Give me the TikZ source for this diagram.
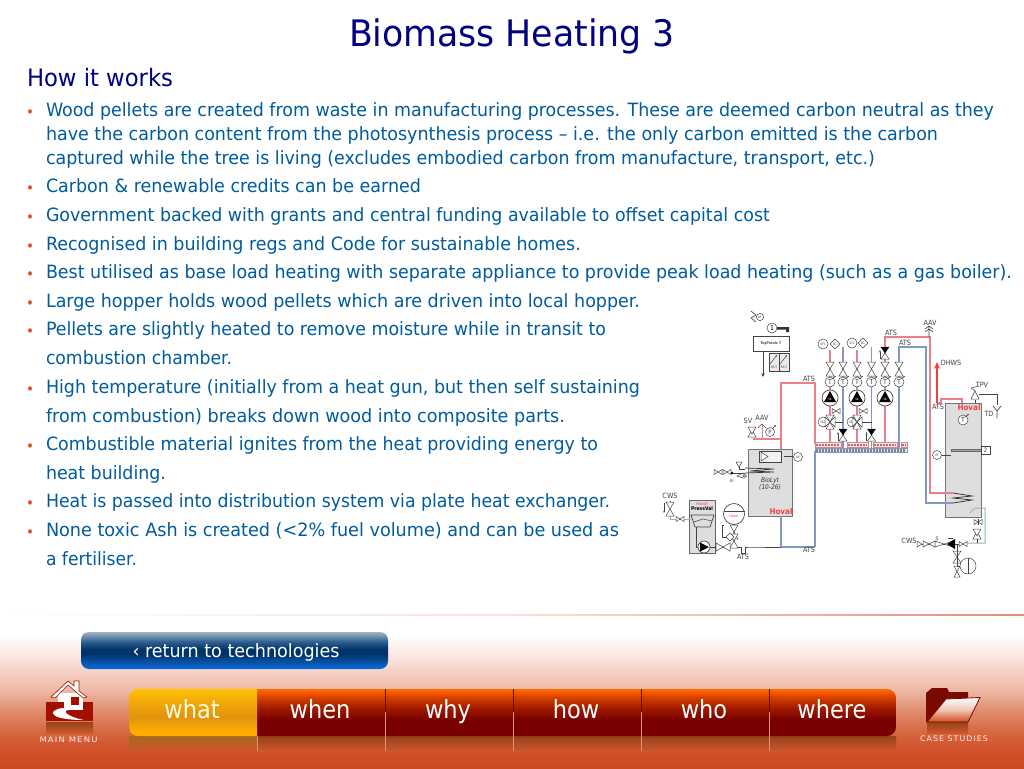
\documentclass[tikz,border=0pt]{standalone}
\usepackage{fontspec}
\usepackage{graphicx}
\setmainfont{DejaVu Sans Condensed}
\usetikzlibrary{arrows.meta}
\definecolor{navy}{HTML}{000080}
\definecolor{bodyc}{HTML}{005C9C}
\definecolor{bul}{HTML}{E2501E}
\definecolor{bga}{HTML}{FFFFFF}\definecolor{bgb}{HTML}{F8E2DA}\definecolor{bgc}{HTML}{EEB8A4}
\definecolor{bgd}{HTML}{E08F70}\definecolor{bge}{HTML}{D86A44}\definecolor{bgf}{HTML}{D0522A}\definecolor{bgg}{HTML}{CC4A1C}
\definecolor{pipered}{HTML}{E8808A}\definecolor{pipeblue}{HTML}{8497BE}\definecolor{pipegreen}{HTML}{8FB8A6}
\definecolor{dk}{HTML}{444444}\definecolor{tankg}{HTML}{DEDEDE}\definecolor{hov}{HTML}{F04040}
\definecolor{icred}{HTML}{A21000}\definecolor{icdark}{HTML}{7A0A00}
\pgfdeclareverticalshading{bgsh}{100bp}{color(0bp)=(bgg);color(25bp)=(bgg);color(31bp)=(bgf);color(37.5bp)=(bge);color(44bp)=(bgd);color(50.5bp)=(bgc);color(60.5bp)=(bgb);color(68.5bp)=(bga);color(100bp)=(bga)}
\definecolor{ra}{HTML}{FF6C00}\definecolor{rb}{HTML}{E04800}\definecolor{rc}{HTML}{A01A00}\definecolor{rd}{HTML}{780000}
\pgfdeclareverticalshading{redtab}{100bp}{color(0bp)=(rd);color(42bp)=(rd);color(55bp)=(rc);color(68bp)=(rb);color(75bp)=(ra);color(100bp)=(ra)}
\definecolor{ya}{HTML}{FFC400}\definecolor{yb}{HTML}{F2A90A}\definecolor{yc}{HTML}{E2920E}\definecolor{yd}{HTML}{FFAE00}
\pgfdeclareverticalshading{yeltab}{100bp}{color(0bp)=(yd);color(30bp)=(yd);color(45bp)=(yc);color(62bp)=(yb);color(75bp)=(ya);color(100bp)=(ya)}
\definecolor{ba}{HTML}{A4B4C2}\definecolor{bb}{HTML}{2F5F90}\definecolor{bc}{HTML}{003468}\definecolor{bd}{HTML}{0A6CE0}
\pgfdeclareverticalshading{bluebtn}{100bp}{color(0bp)=(bd);color(25bp)=(bd);color(45bp)=(bc);color(52bp)=(bc);color(62bp)=(bb);color(75bp)=(ba);color(100bp)=(ba)}
\definecolor{rfa}{HTML}{95421A}\definecolor{rfb}{HTML}{D0562C}\definecolor{yfa}{HTML}{A8681E}
\pgfdeclareverticalshading{reflr}{100bp}{color(0bp)=(rfb);color(25bp)=(rfb);color(75bp)=(rfa);color(100bp)=(rfa)}
\pgfdeclareverticalshading{refly}{100bp}{color(0bp)=(rfb);color(25bp)=(rfb);color(75bp)=(yfa);color(100bp)=(yfa)}
\definecolor{fa}{HTML}{FFFFFF}\definecolor{fb}{HTML}{F0C4B4}\definecolor{fc}{HTML}{D2491C}
\pgfdeclareverticalshading{folderf}{100bp}{color(0bp)=(fc);color(25bp)=(fc);color(50bp)=(fb);color(75bp)=(fa);color(100bp)=(fa)}
\pgfdeclarehorizontalshading{topline}{100bp}{color(0bp)=(white);color(25bp)=(white);color(50bp)=(bgb);color(75bp)=(bgd);color(100bp)=(bgd)}
\tikzset{
 txt/.style={anchor=base west,inner sep=0pt,outer sep=0pt},
 ctr/.style={anchor=center,inner sep=0pt,outer sep=0pt},
 lab/.style={ctr,font=\fontsize{7.2}{7}\selectfont,text=dk},
 tiny lab/.style={ctr,font=\fontsize{3.2}{3}\selectfont,text=dk},
 hovlab/.style={ctr,font=\fontsize{8}{8}\selectfont\bfseries,text=hov},
 redp/.style={draw=pipered,line width=1.2pt},
 bluep/.style={draw=pipeblue,line width=1.2pt},
 blk/.style={draw=dk,line width=.7pt},
 sym/.style={draw=dk,line width=.5pt,fill=white},
 tabt/.style={anchor=base,inner sep=0pt,outer sep=0pt,font=\fontsize{25}{25}\selectfont,text=white},
 icont/.style={ctr,text=bgb!70!white,font=\fontsize{7.6}{8}\selectfont\addfontfeatures{LetterSpace=12}},
}
\newsavebox\fitbox
\newcommand\fitw[2]{\sbox\fitbox{#2}\pgfmathsetmacro\fitr{#1/\wd\fitbox}\scalebox{\fitr}[1]{\usebox\fitbox}}
\newcommand\bodyln[5]{\node[txt,text=bodyc,font=\fontsize{18.3}{20}\selectfont] (#1) at (#2,#3) {\fitw{\the\numexpr#4-#2\relax pt}{#5}};}
\newcommand\bulnode[2]{\node[ctr,text=bul,font=\fontsize{15}{15}\selectfont] (#1) at (30,#2+3.5) {•};}
\newcommand\symvb[2]{\draw[sym] (#1-4,#2-7)--(#1+4,#2-7)--(#1-4,#2+7)--(#1+4,#2+7)--cycle;}
\newcommand\symhb[2]{\draw[sym] (#1-7,#2-4)--(#1-7,#2+4)--(#1+7,#2-4)--(#1+7,#2+4)--cycle;}
\newcommand\symshb[2]{\draw[sym] (#1-4,#2-2.5)--(#1-4,#2+2.5)--(#1+4,#2-2.5)--(#1+4,#2+2.5)--cycle;}
\newcommand\symblv[2]{\draw[sym] (#1-4,#2-6)--(#1+4,#2-6)--(#1-4,#2+6)--(#1+4,#2+6)--cycle;\fill[black] (#1-4,#2-6)--(#1+4,#2-6)--(#1,#2)--cycle;\draw[dk,line width=.5pt,-{Stealth[length=2.5pt]}] (#1-5,#2+6)--(#1-5,#2-3);}
\newcommand\symtc[2]{\draw[sym] (#1,#2) circle (5pt);\node[ctr,text=dk,font=\fontsize{7}{7}\selectfont] at (#1,#2) {T};\draw[dk,line width=.6pt,-{Stealth[length=2pt]}] (#1+2,#2-3)--(#1+6,#2-6);}
\newcommand\sympu[2]{\draw[draw=dk,line width=.7pt,fill=white] (#1,#2) circle (8pt);\fill[black] (#1-6,#2+4)--(#1+6,#2+4)--(#1,#2-7)--cycle;\node[ctr,text=white,font=\fontsize{3}{3}\selectfont] at (#1,#2+1.5) {SK};}
\newcommand\symcir[3]{\draw[sym] (#1,#2) circle (5pt);\node[tiny lab] at (#1,#2) {#3};}
\newcommand\symmix[2]{\draw[sym] (#1-5,#2-5)--(#1+5,#2+5)--(#1+5,#2-5)--(#1-5,#2+5)--cycle;\draw[sym] (#1-4,#2-7)--(#1+4,#2-7)--(#1-4,#2+7)--(#1+4,#2+7)--cycle;}
\newcommand\symhdr[4]{\path[draw=#4,fill=#4!20,line width=.7pt] (#1,#3-2.2)rectangle(#2,#3+2.2);
 \draw[black!50,line width=2.6pt,dash pattern=on 1.5pt off 1.5pt] (#1+1,#3)--(#2-1,#3);}
\begin{document}
\begin{tikzpicture}[x=1pt,y=-1pt]
\useasboundingbox (0,0) rectangle (1024,768);
\fill[white] (0,0) rectangle (1024,768);
\path[shading=bgsh] (0,615) rectangle (1024,768);
\path[shading=topline] (0,614.5) rectangle (1024,615.8);
% Title
\node[ctr,text=navy,font=\fontsize{36.5}{38}\selectfont] (title) at (512,36.5) {\fitw{326pt}{Biomass Heating 3}};
\node[txt,text=navy,font=\fontsize{24}{26}\selectfont] (sub) at (27,86) {\fitw{146pt}{How it works}};
% Bullets
\bulnode{b1}{110}\bulnode{b2}{186}\bulnode{b3}{215}\bulnode{b4}{244}\bulnode{b5}{272}\bulnode{b6}{301}\bulnode{b7}{329}\bulnode{b8}{387}\bulnode{b9}{444}\bulnode{b10}{501}\bulnode{b11}{530}
\bodyln{t1}{46}{116}{994}{Wood pellets are created from waste in manufacturing processes. These are deemed carbon neutral as they}
\bodyln{t2}{46}{140}{938}{have the carbon content from the photosynthesis process – i.e. the only carbon emitted is the carbon}
\bodyln{t3}{46}{164}{875}{captured while the tree is living (excludes embodied carbon from manufacture, transport, etc.)}
\bodyln{t4}{46}{192}{421}{Carbon \& renewable credits can be earned}
\bodyln{t5}{46}{221}{770}{Government backed with grants and central funding available to offset capital cost}
\bodyln{t6}{46}{250}{581}{Recognised in building regs and Code for sustainable homes.}
\bodyln{t7}{46}{278}{1012}{Best utilised as base load heating with separate appliance to provide peak load heating (such as a gas boiler).}
\bodyln{t8}{46}{307}{640}{Large hopper holds wood pellets which are driven into local hopper.}
\bodyln{t9}{46}{335}{606}{Pellets are slightly heated to remove moisture while in transit to}
\bodyln{t10}{46}{364}{232}{combustion chamber.}
\bodyln{t11}{46}{393}{640}{High temperature (initially from a heat gun, but then self sustaining}
\bodyln{t12}{46}{422}{565}{from combustion) breaks down wood into composite parts.}
\bodyln{t13}{46}{450}{598}{Combustible material ignites from the heat providing energy to}
\bodyln{t14}{46}{479}{166}{heat building.}
\bodyln{t15}{46}{507}{610}{Heat is passed into distribution system via plate heat exchanger.}
\bodyln{t16}{46}{536}{619}{None toxic Ash is created (<2\% fuel volume) and can be used as}
\bodyln{t17}{46}{565}{137}{a fertiliser.}
%%% SCHEMATIC
\draw[draw=black!55,fill=tankg,line width=.9pt] (748,449) rectangle (792,516);
\draw[draw=black!55,fill=tankg,line width=.9pt] (945,403) rectangle (981,517);
\draw[draw=black!60,fill=tankg,line width=.9pt] (689,500) rectangle (715,553);
% red pipes
\draw[redp] (781,449)--(781,383)--(815,383)--(815,444);
\draw[redp] (753,439)--(781,439);
\draw[redp] (830,350)--(830,444);
\draw[redp] (857,350)--(857,444);
\draw[redp] (885,444)--(885,337)--(930,337)--(930,493)--(953,493);
\draw[redp] (937,403)--(941,403)--(941,399)--(962,399)--(962,403);
\draw[draw=hov,line width=1.2pt,-{Stealth[length=7pt,width=6pt]}] (937,403)--(937,362);
% blue pipes
\draw[bluep] (843,347)--(843,450);
\draw[bluep] (871.5,347)--(871.5,450);
\draw[bluep] (899,450)--(899,347)--(926,347)--(926,503)--(953,503);
\draw[bluep] (781,516)--(781,547);
\draw[bluep] (815,451)--(815,547);
\draw[bluep] (781,547)--(815,547);
\draw[blk] (830,422)--(843,422) (857,422)--(871.5,422);
% headers
\symhdr{815}{841}{445}{pipered}\symhdr{847}{868}{445}{pipered}\symhdr{873}{897}{445}{pipered}\symhdr{901}{907}{445}{pipered}
\symhdr{815}{907}{450.5}{pipeblue}
% controller
\draw[dk,line width=.6pt] (751,311)--(756,315)--(751,318)--(756,322);
\draw[sym] (760,317) circle (3.6pt);\node[tiny lab] (af) at (760,317) {AF};
\draw[sym] (772,328) circle (5pt);\node[ctr,font=\fontsize{7}{7}\selectfont,text=black] (k1) at (772,328) {1};
\fill[black!80] (777,327)--(789,327)--(789,332)--(786,332)--(786,329.5)--(777,329.5)--cycle;
\node[draw=dk,line width=.7pt,minimum width=36pt,minimum height=15pt,inner sep=0pt,font=\fontsize{3.6}{4}\selectfont\bfseries,text=dk] (tt) at (771,343.5) {TopTronic T};
\draw[draw=dk,fill=black!8,line width=.6pt] (769,353) rectangle (779,371);
\draw[draw=dk,fill=black!8,line width=.6pt] (779,353) rectangle (789,371);
\draw[dk,line width=.5pt,-{Stealth[length=2pt]}] (770,364)--(777,355);
\draw[dk,line width=.5pt,-{Stealth[length=2pt]}] (780,364)--(787,355);
\node[tiny lab] (rs1) at (774,367.5) {RS-T};\node[tiny lab] (rs2) at (784,367.5) {RS-T};
\draw[dk,line width=.7pt,-{Stealth[length=4pt,width=3.5pt]}] (763,351)--(763,377);
% column symbols
\foreach \c in {830,843,857,871.5,885,899}{\symvb{\c}{369}\symtc{\c}{382}}
\sympu{830}{398}\sympu{857}{398}\sympu{885}{398}
\symshb{836}{411}\symshb{863}{411}
\symcir{823}{422}{VK1}\symcir{852}{422}{VK2}
\symmix{830}{422}\symmix{857}{422}
\symblv{843}{435}\symblv{871.5}{435}\symblv{885}{353}
\symcir{823}{344}{VF1}\symcir{852}{343}{VF2}
\draw[sym] (835,339)--(840,344)--(835,349)--(830,344)--cycle;\node[tiny lab] at (835,344) {B1};
\draw[sym] (863,338)--(868,343)--(863,348)--(858,343)--cycle;\node[tiny lab] at (863,343) {B1};
% labels
\node[lab] (a1) at (809,379) {ATS};
\node[lab] (a2) at (891,333) {ATS};
\node[lab] (a3) at (905,343) {ATS};
\node[lab] (aav1) at (930,323) {AAV};
\draw[dk,line width=.6pt] (925,329)--(929,326)--(933,329) (929,326)--(929,337) (925,332)--(929,329)--(933,332);
\node[lab] (dhws) at (951,363) {DHWS};
\node[lab] (a4) at (938,407) {ATS};
\node[hovlab] (hv1) at (969,408) {Hoval};
\symtc{963}{420}
\node[lab] (tpv) at (982,385) {TPV};
\node[lab] (td) at (989,414) {TD};
\draw[sym] (971,399)--(979,399)--(975,391)--cycle;
\draw[dk,line width=.5pt] (975,391)--(971,388)--(979,386);
\draw[blk] (975,400)--(975,403) (979,394)--(997,394)--(997,405);
\draw[blk] (993,406)--(997,411)--(1001,406) (997,411)--(997,418);
% safety group left of boiler
\node[lab] (sv) at (748,421) {SV};
\node[lab] (aav2) at (762,418) {AAV};
\draw[sym] (748,437)--(756,437)--(752,430)--cycle;\draw[sym] (748,427)--(756,427)--(752,434)--cycle;
\draw[redp,line width=.8pt] (762,439)--(762,425);
\draw[dk,line width=.5pt] (758,428)--(762,424)--(766,428);
\draw[sym] (770,432) circle (4.5pt);\node[ctr,font=\fontsize{6}{6}\selectfont,text=dk] at (770,432) {P};
\draw[dk,line width=.5pt,-{Stealth[length=2pt]}] (772,429)--(776,425);
% boiler
\draw[draw=dk,fill=white!60!tankg,line width=.8pt] (759,451) rectangle (781,462);
\draw[sym] (761,452)--(768,456.5)--(761,461)--cycle;
\draw[blk] (784,456)--(793,456);
\draw[sym] (798,457) circle (4.5pt);\node[tiny lab] (af2) at (798,457) {AF};
\draw[black!80,line width=.7pt] (745,468)--(774,469)--(750,471)--(774,472)--(745,473);
\node[ctr,font=\fontsize{6.5}{7}\selectfont\itshape,text=black!80] (bl1) at (770,481) {BioLyt};
\node[ctr,font=\fontsize{6.5}{7}\selectfont\itshape,text=black!80] (bl2) at (770,487) {(10-26)};
\node[hovlab] (hv2) at (781,512) {Hoval};
\symshb{718}{472}\symshb{727}{472}
\draw[blk,line width=.5pt] (732,473)--(745,473) (739,462)--(739,469)--(745,469);
\fill[black] (732,473) circle (1.4pt);
\draw[sym] (736,462)--(742,462)--(739,467)--cycle;
\node[tiny lab,font=\fontsize{4}{4}\selectfont] (ds) at (732,481) {BI};
\draw[sym] (737,476)--(743,473)--(743,478)--cycle;\draw[sym] (745,476) circle (1.5pt);
% return line
\draw[blk] (781,547)--(749,547)--(745,547)--(745,553)--(741,553)--(741,547)--(727,547);
\draw[blk] (734,547)--(734,526);
\draw[blk] (724,525)--(722,525)--(722,537)--(727,537);
\node[lab] (a5) at (809,550) {ATS};
\node[lab] (a6) at (743,557) {ATS};
% expansion vessel
\draw[draw=dk,fill=white,line width=.7pt] (734,514) circle (10.5pt);
\draw[dk,line width=1pt] (723.5,511)--(744.5,511);
\node[ctr,text=hov,font=\fontsize{3.6}{4}\selectfont] (hv3) at (734,516) {Hoval};
\symvb{734}{532}\symvb{734}{541}
\draw[sym] (730,533)--(734,537)--(730,541)--(726,537)--cycle;
% pressure unit
\node[ctr,text=hov,font=\fontsize{4.4}{5}\selectfont] (hv4) at (702,504) {Hoval};
\node[ctr,text=black,font=\fontsize{5}{5}\selectfont\bfseries] (pv) at (702,509) {PressVal};
\draw[draw=dk,fill=tankg,line width=.7pt] (691,515)--(714,515)--(710,527)--(695,527)--cycle;
\draw[dk,line width=.5pt] (694,522)--(703,519)--(712,521);
\draw[blk] (696,527)--(696,547)--(698,547);
\draw[draw=dk,fill=white,line width=.7pt] (704,547) circle (6pt);
\fill[black] (700,542.5)--(709,547)--(700,551.5)--cycle;
\draw[blk,line width=.6pt] (710,547)--(727,547);
\symhb{723}{547}
\draw[draw=pipegreen,line width=.8pt] (670,516)--(670,519)--(691,519);
\node[lab] (cws1) at (670,496) {CWS};
\draw[dk,line width=.5pt] (670,501)--(670,503);
\symvb{670}{509}\symshb{680}{519}
\draw[dk,line width=.6pt,-{Stealth[length=2pt]}] (664,503)--(664,513);
% DHW tank internals
\draw[draw=black!60,fill=black!35,line width=.3pt] (951,449.3) rectangle (981,450.8);
\draw[draw=dk,fill=white,line width=.7pt] (981,446) rectangle (990,454);
\node[ctr,font=\fontsize{6}{6}\selectfont,text=dk] (n2) at (985.5,450) {2};
\draw[sym] (937,455) circle (4.5pt);\node[tiny lab] (ef) at (937,455) {EF};
\draw[blk] (941.5,455)--(951,455);
\draw[black!85,line width=.7pt] (953,493)--(972,496)--(953,498)--(972,500)--(953,503);
% green pipe
\draw[draw=pipegreen,line width=1pt] (970,513)--(975,508)--(985,508)--(985,543)--(967,543);
\symshb{978}{522}
\draw[dk,line width=.4pt] (978,519)--(978,525);
\draw[sym] (973,539)--(981,539)--(977,531)--cycle;\draw[sym] (973,529)--(981,529)--(977,536)--cycle;
\draw[dk,line width=.5pt] (977,539)--(977,543);
% CWS group
\node[lab] (cws2) at (909,541) {CWS};
\draw[dk,line width=.5pt] (917,544)--(960,544);
\draw[sym] (917,541)--(917,547)--(922,544)--cycle;
\draw[sym] (923,541)--(929,544)--(935,541)--(935,547)--(929,544)--(923,547)--cycle;
\draw[sym] (935,541)--(944,544)--(953,541)--(953,547)--(944,544)--(935,547)--cycle;
\node[ctr,font=\fontsize{5}{5}\selectfont,text=dk] (s1) at (937,539) {S};
\fill[black] (947,544)--(955,539)--(955,549)--cycle;
\draw[dk,line width=.8pt] (948,538)--(953,538);
\symshb{963}{544}
\draw[sym] (953,551)--(961,551)--(953,563)--(961,563)--cycle;
\draw[sym] (954,566)--(960,566)--(954,577)--(960,577)--cycle;
\draw[dk,line width=.4pt] (957,544)--(957,566);
\draw[sym] (968,566) circle (8pt);
\draw[dk,line width=.9pt] (968,558)--(968,574);
\draw[dk,line width=.4pt] (957,566)--(960,566);
%%% NAVIGATION
\path[rounded corners=8pt,shading=bluebtn] (81,632) rectangle (388,669);
\node[anchor=base,inner sep=0pt,text=white,font=\fontsize{18.3}{20}\selectfont] (ret) at (236,657) {\fitw{207pt}{‹ return to technologies}};
% reflections
\path[shading=refly] (129,736) rectangle (257,751);
\path[shading=reflr] (257,736) rectangle (896,751);
\begin{scope}
\clip[rounded corners=9pt] (129,689) rectangle (896,736);
\path[shading=redtab] (257,689) rectangle (896,736);
\path[shading=yeltab] (129,689) rectangle (257,736);
\end{scope}
\foreach \s in {385,513,641,769}{
 \draw[draw=rd,line width=.6pt] (\s,689)--(\s,712);
 \draw[draw=bgd,line width=.6pt] (\s,712)--(\s,736);
 \draw[draw=bgd,line width=.5pt] (\s,736)--(\s,751);}
\draw[draw=bgd,line width=.5pt] (257,736)--(257,751);
\node[tabt,text=white!88!yellow] (what) at (192,718) {what};
\node[tabt] (when) at (320,718) {when};
\node[tabt] (why) at (448,718) {why};
\node[tabt] (how) at (576,718) {how};
\node[tabt] (who) at (704,718) {who};
\node[tabt] (where) at (832,718) {where};
% home icon
\path[shading=reflr] (46,722) rectangle (93,733);
\fill[icred] (46,702) rectangle (93,721);
\fill[white] (58,693) rectangle (83,710);
\fill[white,draw=icred,line width=.6pt] (51,697)--(68,681)--(74,686)--(74,681)--(79,681)--(79,691)--(87,697)--(83,698)--(68,685)--(55,698)--cycle;
\fill[icred] (71,697) rectangle (79,705);
\fill[icred] (58,702) rectangle (64,710);
\fill[white] (53,712) .. controls (60,706) and (66,708) .. (68,710) .. controls (62,711) and (68,717) .. (84,720) .. controls (68,720) and (52,718) .. (53,712) -- cycle;
\node[icont] (mm) at (68.5,740) {\fitw{58pt}{MAIN MENU}};
% folder icon
\path[shading=reflr] (927,722) rectangle (968,733);
\fill[icdark] (926,693) -- (932,688) -- (947,688) -- (949,692) -- (968,692) -- (968,700) -- (940,720) -- (926,722) -- cycle;
\draw[draw=icdark,line width=.8pt,shading=folderf] (946,699)--(980,697.5)--(968,722)--(927,722)--cycle;
\node[icont] (cs) at (954,739) {\fitw{68pt}{CASE STUDIES}};
\end{tikzpicture}
\end{document}
